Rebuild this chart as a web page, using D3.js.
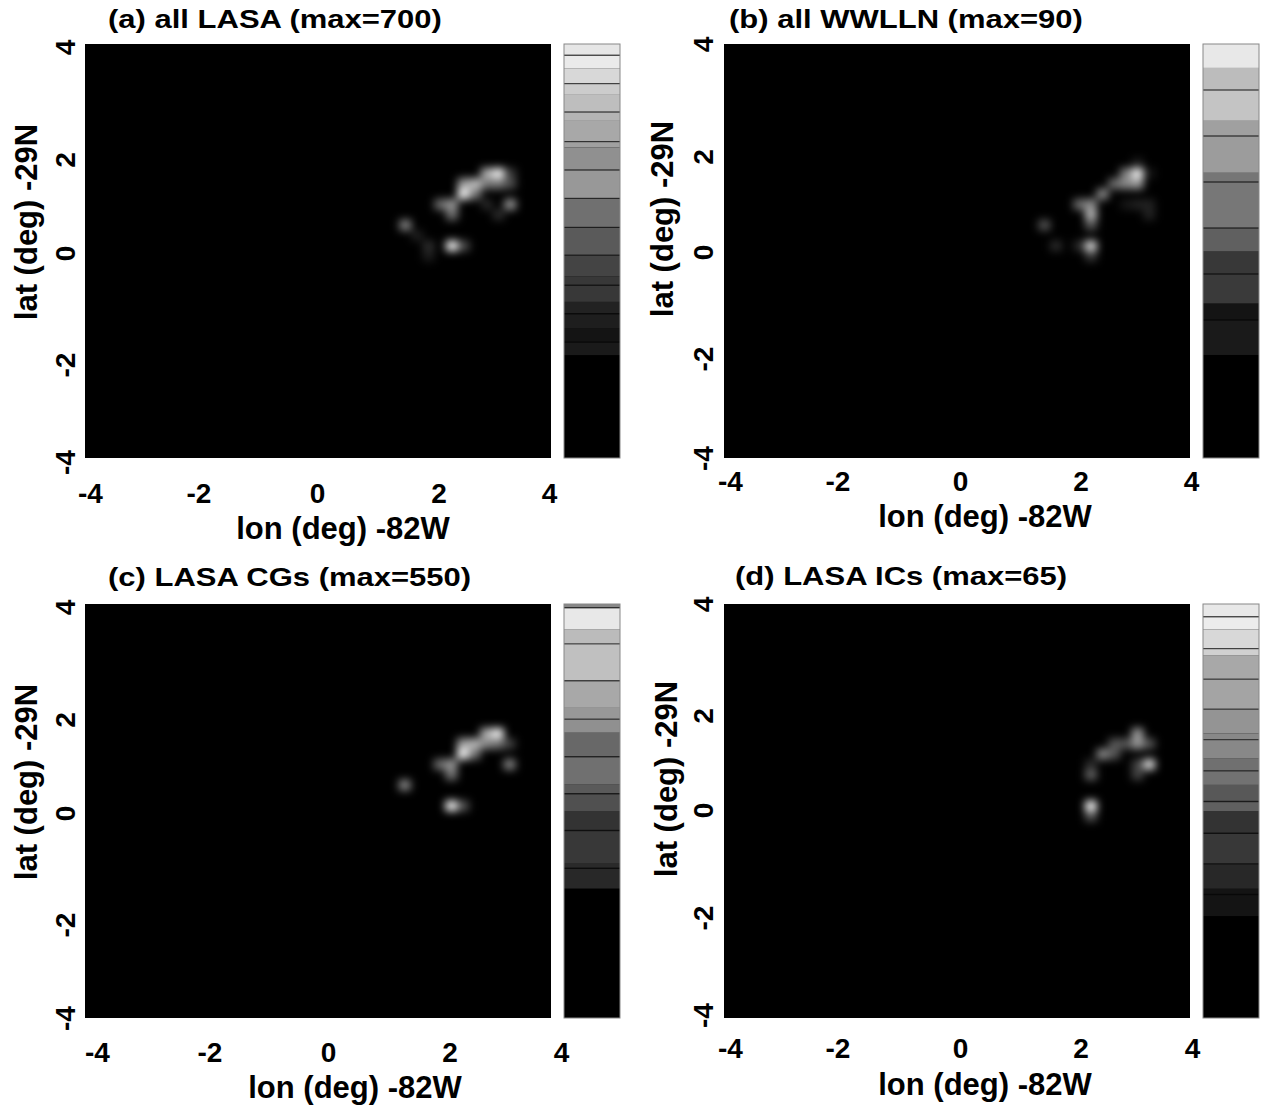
<!DOCTYPE html>
<html>
<head>
<meta charset="utf-8">
<script src="https://cdn.jsdelivr.net/npm/d3@7"></script>
<style>
  html, body { margin: 0; padding: 0; background: #fff; }
  text { font-family: "Liberation Sans", Arial, sans-serif; font-weight: bold; fill: #000; }
</style>
</head>
<body>
<svg id="chart" width="1261" height="1107"></svg>
<script>
// tick labels
var lonTicks = [-4, -2, 0, 2, 4];
var latTicks = [4, 2, 0, -2, -4];

// panel a - all LASA
var aLon = [2.5, 3.1, 2.9, 2.7, 2.5, 2.9, 3.1, 3.3, 3.3, 3.3, 3.1, 2.9, 2.1, 2.3, 2.3, 2.7, 1.5, 1.7, 1.9, 1.9, 2.3, 2.5];
var aLat = [1.1, 1.5, 1.5, 1.3, 1.3, 1.3, 1.3, 1.5, 1.3, 0.9, 0.7, 0.9, 0.9, 0.9, 0.7, 1.1, 0.5, 0.3, 0.1, -0.1, 0.1, 0.1];
var aCount = [700, 620, 450, 480, 400, 300, 300, 150, 200, 380, 110, 100, 280, 380, 280, 300, 330, 80, 110, 70, 700, 190];
var aBandTop = [174, 196, 219, 244, 264, 307, 343, 390, 439, 487, 525, 535, 570, 585, 614, 633, 659, 681, 700];
var aBandGrey = [0x1a, 0x14, 0x1e, 0x22, 0x38, 0x44, 0x5a, 0x70, 0x98, 0x90, 0xa0, 0xa8, 0xb4, 0xbe, 0xcc, 0xd8, 0xea, 0xe6];
var aLines = [196, 244, 292, 343, 390, 439, 487, 535, 585, 633, 681];

// panel b - all WWLLN
var bLon = [3.1, 2.9, 3.1, 2.9, 2.7, 2.5, 2.1, 2.3, 2.3, 2.3, 1.5, 1.7, 2.1, 2.3, 2.3, 2.9, 3.1, 3.3, 3.3, 3.1, 3.3];
var bLat = [1.5, 1.5, 1.3, 1.3, 1.3, 1.1, 0.9, 0.9, 0.7, 0.5, 0.5, 0.1, 0.1, 0.1, -0.1, 0.9, 0.9, 0.9, 0.7, 1.7, 1.5];
var bCount = [90, 42, 50, 45, 36, 45, 36, 45, 58, 27, 27, 14, 14, 68, 18, 7, 11, 11, 11, 9, 7];
var bBandTop = [22.4, 30, 33.6, 40, 44.9, 50, 60, 62, 70, 73.3, 80, 84.8, 90];
var bBandGrey = [0x1a, 0x14, 0x3a, 0x38, 0x60, 0x77, 0x76, 0x9c, 0xa0, 0xc4, 0xbc, 0xe8];
var bLines = [30, 40, 50, 60, 70, 80];

// panel c - LASA CGs
var cLon = [2.3, 2.9, 2.7, 2.5, 2.3, 2.7, 2.9, 3.1, 3.1, 1.9, 2.1, 2.1, 2.5, 1.3, 2.1, 2.3];
var cLat = [1.1, 1.5, 1.5, 1.3, 1.3, 1.3, 1.3, 1.3, 0.9, 0.9, 0.9, 0.7, 1.1, 0.5, 0.1, 0.1];
var cCount = [550, 480, 350, 360, 320, 270, 230, 130, 260, 220, 300, 230, 230, 270, 550, 170];
var cBandTop = [172, 199, 205, 249, 275, 298, 310, 347, 379, 397, 412, 448, 497, 516, 545, 550];
var cBandGrey = [0x28, 0x2a, 0x38, 0x33, 0x50, 0x5a, 0x70, 0x68, 0x90, 0x98, 0xa8, 0xc0, 0xbb, 0xe8, 0x88];
var cLines = [199, 249, 298, 347, 397, 448, 497, 545];

// panel d - LASA ICs
var dLon = [3.1, 3.1, 2.9, 3.3, 2.7, 2.7, 2.5, 3.3, 3.1, 3.1, 2.3, 2.3, 2.3, 2.3];
var dLat = [1.5, 1.3, 1.3, 1.3, 1.3, 1.1, 1.1, 0.9, 0.9, 0.7, 0.7, 0.9, 0.1, -0.1];
var dCount = [36, 36, 20, 20, 20, 20, 32, 52, 16, 16, 23, 10, 65, 20];
var dBandTop = [16, 20.3, 24.2, 29, 32.5, 34, 36.6, 38.8, 40.8, 44.7, 48.5, 53.2, 56.9, 58, 61, 63, 65];
var dBandGrey = [0x14, 0x28, 0x38, 0x33, 0x60, 0x58, 0x72, 0x70, 0x88, 0x94, 0xa4, 0xa8, 0xd0, 0xd8, 0xec, 0xe8];
var dLines = [19.4, 24.2, 29, 34, 38.8, 43.7, 48.5, 53.2, 58, 63];

var panels = [
  { title: "(a) all LASA (max=700)", max: 700, lon: aLon, lat: aLat, count: aCount, bandTop: aBandTop, bandGrey: aBandGrey, lines: aLines,
    x0: 85, y0: 44, xShift: 0, titleX: 108, titleY: 28, tickY: 503, tickX: 65, xLabel: [343, 539], yLabel: [37, 222],
    xOff: [5, -3, -1, 4, -2], yOff: [3, 12, 2, 10, 4] },
  { title: "(b) all WWLLN (max=90)", max: 90, lon: bLon, lat: bLat, count: bCount, bandTop: bBandTop, bandGrey: bBandGrey, lines: bLines,
    x0: 724, y0: 44, xShift: 0, titleX: 729, titleY: 28, tickY: 491, tickX: 703, xLabel: [985, 527], yLabel: [673, 219],
    xOff: [6, -3, 3, 7, 1], yOff: [0, 9, 1, 4, 0] },
  { title: "(c) LASA CGs (max=550)", max: 550, lon: cLon, lat: cLat, count: cCount, bandTop: cBandTop, bandGrey: cBandGrey, lines: cLines,
    x0: 85, y0: 604, xShift: 11, titleX: 108, titleY: 586, tickY: 1062, tickX: 65, xLabel: [355, 1098], yLabel: [37, 782],
    xOff: [1, -3, -1, 4, -1], yOff: [3, 12, 2, 10, 0] },
  { title: "(d) LASA ICs (max=65)", max: 65, lon: dLon, lat: dLat, count: dCount, bandTop: dBandTop, bandGrey: dBandGrey, lines: dLines,
    x0: 724, y0: 604, xShift: 0, titleX: 735, titleY: 585, tickY: 1058, tickX: 703, xLabel: [985, 1095], yLabel: [677, 779],
    xOff: [6, -3, 3, 7, 2], yOff: [0, 8, -1, 3, -3] }
];

var plotW = 466, plotH = 414, barGap = 13, barW = 56;
var cellLon = 0.2, cellLat = 0.2;
var fontSize = "31px", tickFontSize = "28px";

var svg = d3.select("#chart");
var defs = svg.append("defs");

panels.forEach(function (p, i) {
  var x = d3.scaleLinear().domain([-4, 4]).range([p.x0 + p.xShift, p.x0 + p.xShift + plotW]);
  var y = d3.scaleLinear().domain([-4, 4]).range([p.y0 + plotH, p.y0]);
  // the blur eats some of the peak so the grey ramp tops out a little early
  var grey = d3.scaleLinear().domain([0, p.max * 0.88]).range(["#000", "#fff"]).clamp(true);

  // blur is what makes the cells look like the smoothed image
  var filter = defs.append("filter").attr("id", "blur" + i)
    .attr("filterUnits", "userSpaceOnUse")
    .attr("x", p.x0).attr("y", p.y0).attr("width", plotW).attr("height", plotH)
    .attr("color-interpolation-filters", "sRGB");
  filter.append("feGaussianBlur").attr("stdDeviation", 4);

  svg.append("rect").attr("x", p.x0).attr("y", p.y0)
    .attr("width", plotW).attr("height", plotH).attr("fill", "#000");

  var cells = p.lon.map(function (d, k) { return { lon: d, lat: p.lat[k], count: p.count[k] }; });
  svg.append("g").attr("filter", "url(#blur" + i + ")")
    .selectAll("rect").data(cells).enter().append("rect")
    .attr("x", function (d) { return x(d.lon - cellLon / 2); })
    .attr("y", function (d) { return y(d.lat + cellLat / 2); })
    .attr("width", x(cellLon) - x(0))
    .attr("height", y(0) - y(cellLat))
    .attr("fill", function (d) { return grey(d.count); });

  // colour bar, each band runs from its bandTop up to the next one, black below the first
  var barX = p.x0 + plotW + barGap;
  var barY = d3.scaleLinear().domain([0, p.max]).range([p.y0 + plotH, p.y0]);
  svg.append("rect").attr("x", barX).attr("y", p.y0).attr("width", barW).attr("height", plotH).attr("fill", "#000");
  svg.append("g").selectAll("rect").data(p.bandGrey).enter().append("rect")
    .attr("x", barX)
    .attr("width", barW)
    .attr("y", function (d, k) { return barY(p.bandTop[k + 1]); })
    .attr("height", function (d, k) { return barY(p.bandTop[k]) - barY(p.bandTop[k + 1]); })
    .attr("fill", function (d) { return d3.rgb(d, d, d); });
  svg.append("g").selectAll("line").data(p.lines).enter().append("line")
    .attr("x1", barX).attr("x2", barX + barW)
    .attr("y1", function (d) { return barY(d); })
    .attr("y2", function (d) { return barY(d); })
    .attr("stroke", "#000").attr("stroke-opacity", 0.6).attr("stroke-width", 1.4);
  svg.append("rect").attr("x", barX).attr("y", p.y0).attr("width", barW).attr("height", plotH)
    .attr("fill", "none").attr("stroke", "#888").attr("stroke-width", 1);

  // axes, labels nudged by hand since the original labels are not evenly placed
  var xAxis = svg.append("g").attr("transform", "translate(0," + p.tickY + ")")
    .call(d3.axisBottom(x).tickValues(lonTicks).tickSize(0).tickFormat(String));
  xAxis.select(".domain").remove();
  xAxis.selectAll("text")
    .attr("y", 0).attr("dy", 0)
    .attr("dx", function (d, k) { return p.xOff[k]; })
    .style("font-size", tickFontSize)
    .style("font-family", "'Liberation Sans', Arial, sans-serif");

  var yAxis = svg.append("g").attr("transform", "translate(" + p.tickX + ",0)")
    .call(d3.axisLeft(y).tickValues(latTicks).tickSize(0).tickFormat(String));
  yAxis.select(".domain").remove();
  yAxis.selectAll("text")
    .attr("x", 0).attr("dy", 0)
    .attr("text-anchor", "middle")
    .attr("transform", function (d, k) { return "translate(10," + p.yOff[k] + ") rotate(-90)"; })
    .style("font-size", tickFontSize)
    .style("font-family", "'Liberation Sans', Arial, sans-serif");

  // titles are squashed a bit vertically in the original
  svg.append("text").style("font-size", fontSize)
    .attr("transform", "translate(" + p.titleX + "," + p.titleY + ") scale(1,0.86)")
    .text(p.title);
  svg.append("text").attr("x", p.xLabel[0]).attr("y", p.xLabel[1]).attr("text-anchor", "middle")
    .style("font-size", fontSize).text("lon (deg) -82W");
  svg.append("text").attr("text-anchor", "middle").style("font-size", fontSize)
    .attr("transform", "translate(" + p.yLabel[0] + "," + p.yLabel[1] + ") rotate(-90)")
    .text("lat (deg) -29N");
});
</script>
</body>
</html>
